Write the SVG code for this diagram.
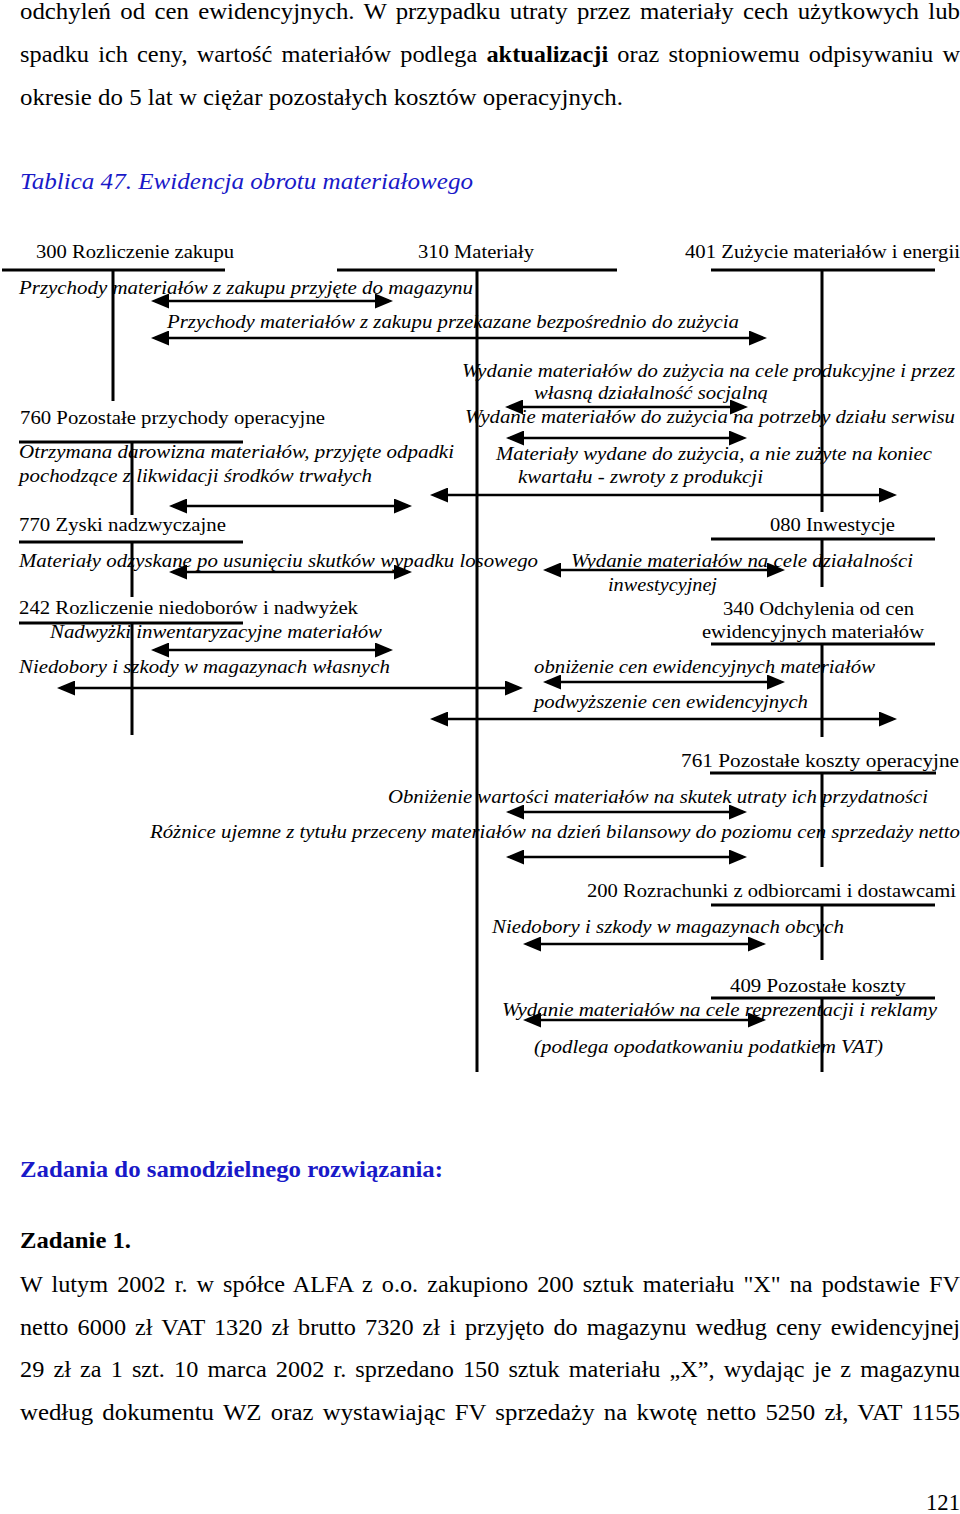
<svg xmlns="http://www.w3.org/2000/svg" width="960" height="1514" viewBox="0 0 960 1514">
<defs>
<style>
.t{font-family:"Liberation Serif","Times New Roman",serif;fill:#000}
.body{font-size:24px}
.blue{fill:#1919c8}
.acct{font-size:19px}
.lab{font-size:19px;font-style:italic}
.tl{stroke:#000;stroke-width:3;fill:none}
.ar{stroke:#000;stroke-width:2.5;fill:none;marker-start:url(#ah);marker-end:url(#ah)}
</style>
<marker id="ah" markerUnits="userSpaceOnUse" viewBox="0 0 18 15" markerWidth="18" markerHeight="15" refX="14" refY="7.5" orient="auto-start-reverse"><path d="M0,0 L18,7.5 L0,15 z" fill="#000"/></marker>
</defs>
<rect width="960" height="1514" fill="#fff"/>

<g id="intro-text" class="t body">
<text x="20" y="19" word-spacing="3" textLength="940" lengthAdjust="spacingAndGlyphs">odchyleń od cen ewidencyjnych. W przypadku utraty przez materiały cech użytkowych lub</text>
<text x="20" y="62" word-spacing="3" textLength="940" lengthAdjust="spacingAndGlyphs">spadku ich ceny, wartość materiałów podlega <tspan font-weight="bold">aktualizacji</tspan> oraz stopniowemu odpisywaniu w</text>
<text x="20" y="105" textLength="603" lengthAdjust="spacingAndGlyphs">okresie do 5 lat w ciężar pozostałych kosztów operacyjnych.</text>
<text x="20" y="189" class="blue" font-style="italic" textLength="453" lengthAdjust="spacingAndGlyphs">Tablica 47. Ewidencja obrotu materiałowego</text>
</g>

<g id="acc-300">
<text class="t acct" x="36" y="258" textLength="198" lengthAdjust="spacingAndGlyphs">300 Rozliczenie zakupu</text>
<path class="tl" d="M2,270 H225 M113,270 V401"/>
</g>
<g id="acc-310">
<text class="t acct" x="418" y="258" textLength="116" lengthAdjust="spacingAndGlyphs">310 Materiały</text>
<path class="tl" d="M337,270 H617 M477,270 V1072"/>
</g>
<g id="acc-401">
<text class="t acct" x="685" y="258" textLength="275" lengthAdjust="spacingAndGlyphs">401 Zużycie materiałów i energii</text>
<path class="tl" d="M711,270 H935 M822,270 V512"/>
</g>
<g id="acc-760">
<text class="t acct" x="20" y="424" textLength="305" lengthAdjust="spacingAndGlyphs">760 Pozostałe przychody operacyjne</text>
<path class="tl" d="M19,442 H243 M132,442 V515"/>
</g>
<g id="acc-770">
<text class="t acct" x="19" y="531" textLength="207" lengthAdjust="spacingAndGlyphs">770 Zyski nadzwyczajne</text>
<path class="tl" d="M19,542 H243 M132,542 V597"/>
</g>
<g id="acc-080">
<text class="t acct" x="770" y="531" textLength="125" lengthAdjust="spacingAndGlyphs">080 Inwestycje</text>
<path class="tl" d="M711,539 H935 M822,539 V587"/>
</g>
<g id="acc-242">
<text class="t acct" x="19" y="614" textLength="339" lengthAdjust="spacingAndGlyphs">242 Rozliczenie niedoborów i nadwyżek</text>
<path class="tl" d="M19,623 H243 M132,623 V735"/>
</g>
<g id="acc-340">
<text class="t acct" x="723" y="615" textLength="191" lengthAdjust="spacingAndGlyphs">340 Odchylenia od cen</text>
<text class="t acct" x="702" y="638" textLength="222" lengthAdjust="spacingAndGlyphs">ewidencyjnych materiałów</text>
<path class="tl" d="M711,644 H935 M822,644 V737"/>
</g>
<g id="acc-761">
<text class="t acct" x="681" y="767" textLength="278" lengthAdjust="spacingAndGlyphs">761 Pozostałe koszty operacyjne</text>
<path class="tl" d="M710,773 H936 M822,773 V867"/>
</g>
<g id="acc-200">
<text class="t acct" x="587" y="897" textLength="369" lengthAdjust="spacingAndGlyphs">200 Rozrachunki z odbiorcami i dostawcami</text>
<path class="tl" d="M711,905 H935 M822,905 V960"/>
</g>
<g id="acc-409">
<text class="t acct" x="730" y="992" textLength="176" lengthAdjust="spacingAndGlyphs">409 Pozostałe koszty</text>
<path class="tl" d="M711,998 H935 M822,998 V1072"/>
</g>

<g id="connectors">
<line class="ar" x1="155" y1="301" x2="389" y2="301"/>
<line class="ar" x1="155" y1="338" x2="763" y2="338"/>
<line class="ar" x1="509" y1="407" x2="744" y2="407"/>
<line class="ar" x1="510" y1="438" x2="743" y2="438"/>
<line class="ar" x1="434" y1="495" x2="893" y2="495"/>
<line class="ar" x1="173" y1="506" x2="408" y2="506"/>
<line class="ar" x1="547" y1="570" x2="781" y2="570"/>
<line class="ar" x1="173" y1="572" x2="408" y2="572"/>
<line class="ar" x1="155" y1="650" x2="389" y2="650"/>
<line class="ar" x1="547" y1="682" x2="781" y2="682"/>
<line class="ar" x1="61" y1="688" x2="519" y2="688"/>
<line class="ar" x1="434" y1="719" x2="893" y2="719"/>
<line class="ar" x1="510" y1="812" x2="743" y2="812"/>
<line class="ar" x1="510" y1="857" x2="743" y2="857"/>
<line class="ar" x1="527" y1="944" x2="762" y2="944"/>
<line class="ar" x1="527" y1="1020" x2="762" y2="1020"/>
</g>

<g id="flow-labels" class="t lab">
<text x="19" y="294" textLength="454" lengthAdjust="spacingAndGlyphs">Przychody materiałów z zakupu przyjęte do magazynu</text>
<text x="167" y="328" textLength="572" lengthAdjust="spacingAndGlyphs">Przychody materiałów z zakupu przekazane bezpośrednio do zużycia</text>
<text x="462" y="377" textLength="493" lengthAdjust="spacingAndGlyphs">Wydanie materiałów do zużycia na cele produkcyjne i przez</text>
<text x="534" y="399" textLength="234" lengthAdjust="spacingAndGlyphs">własną działalność socjalną</text>
<text x="465" y="423" textLength="490" lengthAdjust="spacingAndGlyphs">Wydanie materiałów do zużycia na potrzeby działu serwisu</text>
<text x="19" y="458" textLength="435" lengthAdjust="spacingAndGlyphs">Otrzymana darowizna materiałów, przyjęte odpadki</text>
<text x="19" y="482" textLength="353" lengthAdjust="spacingAndGlyphs">pochodzące z likwidacji środków trwałych</text>
<text x="496" y="460" textLength="436" lengthAdjust="spacingAndGlyphs">Materiały wydane do zużycia, a nie zużyte na koniec</text>
<text x="518" y="483" textLength="245" lengthAdjust="spacingAndGlyphs">kwartału - zwroty z produkcji</text>
<text x="19" y="567" textLength="519" lengthAdjust="spacingAndGlyphs">Materiały odzyskane po usunięciu skutków wypadku losowego</text>
<text x="571" y="567" textLength="342" lengthAdjust="spacingAndGlyphs">Wydanie materiałów na cele działalności</text>
<text x="608" y="591" textLength="109" lengthAdjust="spacingAndGlyphs">inwestycyjnej</text>
<text x="50" y="638" textLength="332" lengthAdjust="spacingAndGlyphs">Nadwyżki inwentaryzacyjne materiałów</text>
<text x="19" y="673" textLength="371" lengthAdjust="spacingAndGlyphs">Niedobory i szkody w magazynach własnych</text>
<text x="534" y="673" textLength="341" lengthAdjust="spacingAndGlyphs">obniżenie cen ewidencyjnych materiałów</text>
<text x="534" y="708" textLength="274" lengthAdjust="spacingAndGlyphs">podwyższenie cen ewidencyjnych</text>
<text x="388" y="803" textLength="540" lengthAdjust="spacingAndGlyphs">Obniżenie wartości materiałów na skutek utraty ich przydatności</text>
<text x="150" y="838" textLength="810" lengthAdjust="spacingAndGlyphs">Różnice ujemne z tytułu przeceny materiałów na dzień bilansowy do poziomu cen sprzedaży netto</text>
<text x="492" y="933" textLength="352" lengthAdjust="spacingAndGlyphs">Niedobory i szkody w magazynach obcych</text>
<text x="502" y="1016" textLength="435" lengthAdjust="spacingAndGlyphs">Wydanie materiałów na cele reprezentacji i reklamy</text>
<text x="534" y="1053" textLength="349" lengthAdjust="spacingAndGlyphs">(podlega opodatkowaniu podatkiem VAT)</text>
</g>

<g id="tasks-text" class="t body">
<text x="20" y="1177" class="blue" font-weight="bold" textLength="423" lengthAdjust="spacingAndGlyphs">Zadania do samodzielnego rozwiązania:</text>
<text x="20" y="1248" font-weight="bold" textLength="111" lengthAdjust="spacingAndGlyphs">Zadanie 1.</text>
<text x="20" y="1292" word-spacing="3" textLength="940" lengthAdjust="spacingAndGlyphs">W lutym 2002 r. w spółce ALFA z o.o. zakupiono 200 sztuk materiału "X" na podstawie FV</text>
<text x="20" y="1335" word-spacing="3" textLength="940" lengthAdjust="spacingAndGlyphs">netto 6000 zł VAT 1320 zł brutto 7320 zł i przyjęto do magazynu według ceny ewidencyjnej</text>
<text x="20" y="1377" word-spacing="3" textLength="940" lengthAdjust="spacingAndGlyphs">29 zł za 1 szt. 10 marca 2002 r. sprzedano 150 sztuk materiału „X”, wydając je z magazynu</text>
<text x="20" y="1420" word-spacing="3" textLength="940" lengthAdjust="spacingAndGlyphs">według dokumentu WZ oraz wystawiając FV sprzedaży na kwotę netto 5250 zł, VAT 1155</text>
<text x="926" y="1510" textLength="34" lengthAdjust="spacingAndGlyphs">121</text>
</g>
</svg>
